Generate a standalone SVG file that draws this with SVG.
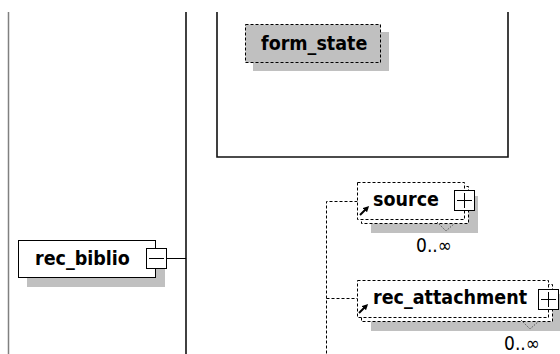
<svg xmlns="http://www.w3.org/2000/svg" width="560" height="354" viewBox="0 0 560 354">
<defs>
<style>
.lbl{font-family:"DejaVu Sans Condensed","DejaVu Sans",sans-serif;font-weight:bold;font-size:19.5px;fill:#000}
.occ{font-family:"DejaVu Sans Condensed","DejaVu Sans",sans-serif;font-size:19px;fill:#000}
.shadow{fill:#c0c0c0}
.solid{fill:#fff;stroke:#000;stroke-width:1}
.dash{fill:#fff;stroke:#000;stroke-width:1;stroke-dasharray:3,2}
.line{fill:none;stroke:#000;stroke-width:1}
.dline{fill:none;stroke:#000;stroke-width:1;stroke-dasharray:3,2}
.chev{fill:none;stroke:#555;stroke-width:1;stroke-dasharray:1.5,1.5}
.ref{stroke:#000;stroke-width:2;marker-end:url(#ah)}
</style>
<marker id="ah" viewBox="0 0 6 6" refX="3" refY="3" markerWidth="6" markerHeight="6" orient="auto" markerUnits="userSpaceOnUse">
<path d="M0,0 L6,3 L0,6 z" fill="#000"/>
</marker>
</defs>
<rect width="560" height="354" fill="#fff"/>

<g id="connectors">
<line x1="8.5" y1="12" x2="8.5" y2="354" stroke="#808080" stroke-width="1.5"/>
<line x1="186" y1="12" x2="186" y2="354" stroke="#111" stroke-width="1.6"/>
<line class="line" x1="166.5" y1="258.5" x2="186" y2="258.5"/>
<path class="dline" d="M357.5,201.5 H326.5 V354"/>
<path class="dline" d="M326.5,298.5 H357.5"/>
</g>

<g id="container">
<path d="M217,12 V157 H508 V12" fill="none" stroke="#111" stroke-width="1.6"/>
</g>

<g id="node-form_state">
<rect class="shadow" x="253" y="32" width="136" height="39"/>
<rect x="245.5" y="24.5" width="135" height="38" fill="#c0c0c0" stroke="#000" stroke-width="1" stroke-dasharray="3,2"/>
<text class="lbl" x="261" y="50">form_state</text>
</g>

<g id="node-rec_biblio">
<rect class="shadow" x="27" y="250" width="138" height="37"/>
<rect class="solid" x="18.5" y="240.5" width="137" height="37"/>
<text class="lbl" x="35" y="265">rec_biblio</text>
<rect class="solid" x="146.5" y="248.5" width="20" height="20"/>
<line class="line" x1="149" y1="258.5" x2="164" y2="258.5"/>
</g>

<g id="node-source">
<rect class="shadow" x="371" y="196" width="107" height="37"/>
<rect class="dash" x="361.5" y="186.5" width="107" height="37"/>
<rect class="dash" x="357.5" y="182.5" width="107" height="37"/>
<text class="lbl" x="373" y="205.5">source</text>
<line class="ref" x1="360" y1="215" x2="367" y2="208"/>
<rect class="solid" x="454.5" y="190.5" width="20" height="20"/>
<path class="line" d="M457,200.5 H472 M464.5,193 V208"/>
<polyline class="chev" points="437,222 446,231 455,223"/>
<text class="occ" x="452" y="251.5" text-anchor="end">0..∞</text>
</g>

<g id="node-rec_attachment">
<rect class="shadow" x="371" y="294" width="191" height="37"/>
<rect class="dash" x="361.5" y="284.5" width="191" height="37"/>
<rect class="dash" x="357.5" y="280.5" width="191" height="37"/>
<text class="lbl" x="373" y="303.5">rec_attachment</text>
<line class="ref" x1="359" y1="313" x2="366" y2="306"/>
<rect class="solid" x="538.5" y="289.5" width="20" height="20"/>
<path class="line" d="M541,299.5 H556 M548.5,292 V307"/>
<polyline class="chev" points="521,320 530,329 539,321"/>
<text class="occ" x="540" y="349.5" text-anchor="end">0..∞</text>
</g>
</svg>
